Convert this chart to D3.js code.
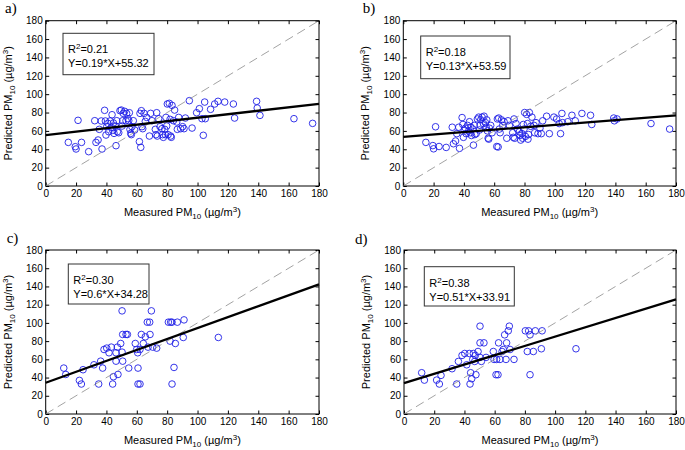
<!DOCTYPE html>
<html><head><meta charset="utf-8">
<script src="https://cdn.jsdelivr.net/npm/d3@7"></script>
<style>body{margin:0;background:#fff}</style>
</head><body><svg id="chart" width="685" height="450"></svg>
<script>
// ---- data ----
const measuredAB = [14.9,19.5,20.0,21.3,23.6,28.3,32.3,33.1,34.5,35.3,36.6,37.1,38.8,39.3,39.7,40.2,41.0,41.5,42.4,43.2,43.7,44.1,44.6,45.0,45.9,46.3,46.8,47.2,48.1,48.9,49.8,50.3,50.7,51.1,52.0,52.9,53.3,54.2,54.7,55.1,55.5,56.0,56.4,56.8,57.7,58.6,61.7,62.1,62.6,63.0,63.4,63.9,64.8,65.6,66.5,68.3,69.1,70.0,72.2,72.6,73.1,73.5,74.4,75.3,76.6,77.0,77.5,78.4,78.8,79.2,79.7,80.1,80.6,81.4,81.9,82.3,82.7,83.2,84.1,84.9,86.3,86.7,87.6,88.9,90.2,91.1,92.0,94.6,96.4,99.4,101.2,102.9,103.8,104.7,105.1,108.6,111.3,113.5,117.9,123.6,124.4,138.9,139.3,141.1,163.5,175.8];
const predictedA = [47.5,42.8,40.3,71.5,47.5,37.4,71.1,47.5,50.1,61.7,70.8,40.3,82.4,70.8,55.5,64.6,68.2,59.1,70.8,63.9,77.6,60.6,68.6,57.3,65.3,43.9,71.1,59.1,58.0,82.0,82.7,65.3,71.1,79.1,81.3,71.1,79.1,73.3,71.1,79.8,61.7,57.3,55.9,64.6,71.1,61.0,48.3,79.1,42.1,82.0,64.6,62.4,79.1,70.4,74.7,54.4,79.1,71.1,61.7,55.9,79.8,54.4,73.3,64.6,62.4,55.9,53.0,61.7,55.9,74.7,65.3,89.3,55.9,90.0,72.6,54.4,53.0,87.8,71.1,82.7,69.7,61.7,74.7,62.4,64.6,62.4,74.0,92.9,63.1,79.8,84.2,73.3,55.2,91.4,73.3,83.5,89.3,92.2,91.4,89.3,74.0,92.2,84.9,76.9,73.3,68.2];
const predictedB = [47.5,44,40.5,64.5,43,42,64,46,49,57,64,41,74.5,67,53,61,63,57,66,60,70,58,64,55,62,44.5,66,56,57,73,75,61,66,72,75,68,76,69,64,72,60,52,51,63,66,58,43,73,42.5,74,62,58,72,66,70,52,71,66,58,53,73,52,68,62,59,55,50,57,52,67,62,80,54,78,68,51,56,80,65,75,66,58,69,57,63,57,71,76,57,75,73,68,57,79,69,70,77,71,79,77,67,74,71,73,68,62];
const measuredC = [11.9,13.2,22.2,23.5,24.6,31.8,34.9,36.2,37.5,38.4,40.2,41.7,43.2,44.1,44.6,46.3,46.3,47.2,47.6,49.4,50.3,50.7,50.7,50.3,52.9,53.8,54.7,59.0,59.9,60.6,60.8,60.8,62.1,62.1,63.0,64.3,65.6,66.9,67.4,68.5,68.7,69.6,70.5,73.1,80.8,81.9,82.3,83.2,83.2,84.5,85.4,86.7,90.6,91.1,113.7];
const predictedC = [50.4,43.4,36.9,32.9,48.6,54.0,32.9,58.0,50.4,70.8,72.3,67.2,73.4,32.9,40.9,67.2,58.0,73.4,43.4,77.4,113.2,87.3,58.0,67.9,87.3,87.3,50.4,77.4,70.8,67.2,50.4,32.9,32.9,70.8,87.3,77.4,84.7,100.8,73.4,100.8,87.3,113.2,73.4,72.3,100.8,80.0,100.8,100.8,32.9,51.1,77.4,100.8,84.0,103.3,84.0];
const measuredD = [11.7,13.5,21.6,23.4,24.5,31.8,34.9,36.0,38.4,40.2,41.5,43.2,43.7,44.1,44.8,45.5,45.9,46.8,47.2,47.6,49.0,50.3,50.3,51.2,50.3,52.9,54.3,59.1,59.6,60.9,61.3,62.2,62.6,63.5,64.9,65.7,66.6,67.5,67.9,69.0,69.7,70.2,72.8,80.3,81.6,82.5,83.4,83.4,85.6,86.9,90.9,91.4,113.8];
const predictedD = [45.3,37.2,37.2,32.9,42.4,49.7,32.9,57.7,64.3,66.4,54.0,66.4,32.9,45.3,38.7,59.9,66.4,57.7,64.3,43.1,68.6,96.4,78.1,57.7,62.1,78.1,62.1,68.6,59.9,43.1,59.9,43.1,78.1,59.9,68.6,70.8,86.9,59.9,78.1,91.3,96.4,70.8,59.9,91.3,68.6,91.3,86.9,43.1,68.6,91.3,71.6,91.3,71.6];
const panelLabels = ["a)", "b)", "c)", "d)"];
const r2Values = ["0.21", "0.18", "0.30", "0.38"];
const equations = ["Y=0.19*X+55.32", "Y=0.13*X+53.59", "Y=0.6*X+34.28", "Y=0.51*X+33.91"];
const slopes = [0.19, 0.13, 0.6, 0.51];
const intercepts = [55.32, 53.59, 34.28, 33.91];
const tickValues = [0, 20, 40, 60, 80, 100, 120, 140, 160, 180];

const panelData = [
  {x: measuredAB, y: predictedA},
  {x: measuredAB, y: predictedB},
  {x: measuredC, y: predictedC},
  {x: measuredD, y: predictedD}
];

// ---- layout ----
const layout = [
  {l: 45.7, r: 319, t: 20.7, b: 186, lab: [5, 12.5], box: [63, 33.3, 91, 41.4]},
  {l: 403.3, r: 676, t: 20.7, b: 186, lab: [362.7, 13], box: [420.7, 36, 89.3, 42.7]},
  {l: 45.7, r: 319, t: 250, b: 414, lab: [6.7, 243], box: [68.3, 264, 80.7, 40]},
  {l: 404, r: 676, t: 250, b: 414, lab: [355, 244], box: [424.3, 266.7, 90, 39.3]}
];

const svg = d3.select("#chart");
const FONT = "'Liberation Sans', Arial, Helvetica, sans-serif";

layout.forEach((L, i) => {
  const d = panelData[i];
  const x = d3.scaleLinear().domain([0, 180]).range([L.l, L.r]);
  const y = d3.scaleLinear().domain([0, 180]).range([L.b, L.t]);
  const g = svg.append("g");

  // frame
  g.append("rect").attr("x", L.l).attr("y", L.t).attr("width", L.r - L.l).attr("height", L.b - L.t)
    .attr("fill", "#fff").attr("stroke", "#000").attr("stroke-width", 1);

  const tk = 3.5;
  const ax = (axis, tr) => {
    const a = g.append("g").attr("transform", tr).call(axis);
    a.select(".domain").remove();
    a.selectAll("line").attr("stroke", "#000");
    a.selectAll("text").attr("font-family", FONT).attr("font-size", 10).attr("fill", "#000");
    return a;
  };
  ax(d3.axisBottom(x).tickValues(tickValues).tickSizeInner(-tk).tickSizeOuter(0).tickPadding(4), `translate(0,${L.b})`);
  ax(d3.axisTop(x).tickValues(tickValues).tickSizeInner(-tk).tickSizeOuter(0).tickFormat(""), `translate(0,${L.t})`);
  ax(d3.axisLeft(y).tickValues(tickValues).tickSizeInner(-tk).tickSizeOuter(0).tickPadding(3), `translate(${L.l},0)`);
  ax(d3.axisRight(y).tickValues(tickValues).tickSizeInner(-tk).tickSizeOuter(0).tickFormat(""), `translate(${L.r},0)`);

  // points
  g.append("g").selectAll("circle").data(d.x.map((v, k) => [v, d.y[k]])).join("circle")
    .attr("cx", p => x(p[0])).attr("cy", p => y(p[1])).attr("r", 3.3)
    .attr("fill", "none").attr("stroke", "#1f1fe6").attr("stroke-width", 0.9);

  // 1:1 line
  g.append("line").attr("x1", x(0)).attr("y1", y(0)).attr("x2", x(180)).attr("y2", y(180))
    .attr("stroke", "#8c8c8c").attr("stroke-width", 0.8).attr("stroke-dasharray", "9,5");

  // regression line
  g.append("line").attr("x1", x(0)).attr("y1", y(intercepts[i])).attr("x2", x(180)).attr("y2", y(slopes[i] * 180 + intercepts[i]))
    .attr("stroke", "#000").attr("stroke-width", 2.3);

  // text box
  const [bx, by, bw, bh] = L.box;
  g.append("rect").attr("x", bx).attr("y", by).attr("width", bw).attr("height", bh)
    .attr("fill", "#fff").attr("stroke", "#333").attr("stroke-width", 1);
  const t1 = g.append("text").attr("x", bx + 5).attr("y", by + 20).attr("font-family", FONT).attr("font-size", 11);
  t1.append("tspan").text("R");
  t1.append("tspan").attr("dy", -4).attr("font-size", 8).text("2");
  t1.append("tspan").attr("dy", 4).text("=" + r2Values[i]);
  g.append("text").attr("x", bx + 5).attr("y", by + 34).attr("font-family", FONT).attr("font-size", 11).text(equations[i]);

  // x title
  const xt = g.append("text").attr("x", (L.l + L.r) / 2).attr("y", L.b + 30).attr("text-anchor", "middle")
    .attr("font-family", FONT).attr("font-size", 11);
  xt.append("tspan").text("Measured PM");
  xt.append("tspan").attr("dy", 3).attr("font-size", 8).text("10");
  xt.append("tspan").attr("dy", -3).text(" (µg/m");
  xt.append("tspan").attr("dy", -4).attr("font-size", 8).text("3");
  xt.append("tspan").attr("dy", 4).text(")");

  // y title
  const yt = g.append("text").attr("transform", `translate(${L.l - 34},${(L.t + L.b) / 2}) rotate(-90)`)
    .attr("text-anchor", "middle").attr("font-family", FONT).attr("font-size", 11);
  yt.append("tspan").text("Predicted PM");
  yt.append("tspan").attr("dy", 3).attr("font-size", 8).text("10");
  yt.append("tspan").attr("dy", -3).text(" (µg/m");
  yt.append("tspan").attr("dy", -4).attr("font-size", 8).text("3");
  yt.append("tspan").attr("dy", 4).text(")");

  // panel label
  svg.append("text").attr("x", L.lab[0]).attr("y", L.lab[1]).attr("font-family", "'Liberation Serif', 'Times New Roman', serif")
    .attr("font-size", 15).text(panelLabels[i]);
});
</script></body></html>
